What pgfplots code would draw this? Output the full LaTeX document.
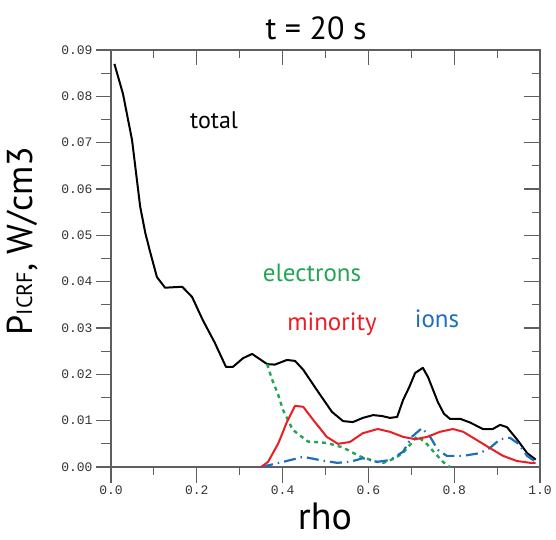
\documentclass[border=0pt]{standalone}
\usepackage{pgfplots}
\pgfplotsset{compat=1.18}
\usepackage{fontspec}
\setmainfont{PT Sans}
\setmonofont{Liberation Mono}
\definecolor{cgreen}{RGB}{35,165,85}
\definecolor{cblue}{RGB}{30,110,190}
\definecolor{cred}{RGB}{235,30,35}
\definecolor{framegray}{RGB}{95,95,95}

\pgfplotstableread{
x y
0.008 0.0870
0.028 0.0805
0.049 0.0706
0.068 0.0562
0.080 0.0505
0.091 0.0465
0.107 0.0410
0.126 0.0387
0.166 0.0389
0.189 0.0367
0.214 0.0317
0.242 0.0268
0.268 0.0216
0.284 0.0216
0.308 0.0235
0.329 0.0244
0.364 0.0222
0.382 0.0221
0.410 0.0231
0.429 0.0229
0.448 0.0210
0.480 0.0166
0.515 0.0119
0.541 0.0099
0.564 0.0097
0.587 0.0106
0.611 0.0112
0.632 0.0110
0.650 0.0106
0.667 0.0108
0.681 0.0145
0.695 0.0172
0.709 0.0203
0.727 0.0214
0.739 0.0194
0.762 0.0140
0.776 0.0115
0.790 0.0104
0.814 0.0104
0.837 0.0096
0.867 0.0082
0.890 0.0082
0.907 0.0091
0.923 0.0086
0.946 0.0060
0.970 0.0030
0.990 0.0016
}\total

\pgfplotstableread{
x y
0.364 0.0222
0.375 0.0190
0.390 0.0155
0.401 0.0123
0.424 0.0080
0.459 0.0055
0.503 0.0052
0.541 0.0042
0.580 0.0023
0.620 0.0011
0.635 0.0009
0.662 0.0019
0.681 0.0031
0.697 0.0048
0.713 0.0066
0.732 0.0054
0.755 0.0030
0.775 0.0010
0.790 0.0000
}\electrons

\pgfplotstableread{
x y
0.350 0.0000
0.366 0.0011
0.390 0.0051
0.410 0.0097
0.429 0.0132
0.448 0.0130
0.471 0.0102
0.503 0.0065
0.529 0.0050
0.557 0.0054
0.587 0.0073
0.622 0.0082
0.650 0.0076
0.681 0.0065
0.709 0.0060
0.737 0.0065
0.767 0.0076
0.797 0.0082
0.821 0.0076
0.853 0.0058
0.883 0.0041
0.914 0.0024
0.946 0.0013
0.977 0.0009
0.990 0.0009
}\minority

\pgfplotstableread{
x y
0.350 0.0000
0.401 0.0011
0.448 0.0022
0.487 0.0015
0.527 0.0009
0.557 0.0011
0.587 0.0019
0.620 0.0011
0.650 0.0015
0.681 0.0033
0.701 0.0065
0.725 0.0084
0.744 0.0065
0.762 0.0037
0.783 0.0024
0.821 0.0024
0.860 0.0030
0.883 0.0041
0.907 0.0060
0.930 0.0063
0.950 0.0050
0.970 0.0024
0.990 0.0011
}\ions

\begin{document}
\begin{tikzpicture}
\begin{axis}[
  at={(111pt,72pt)}, anchor=south west,
  scale only axis, width=429pt, height=417pt,
  xmin=0, xmax=1, ymin=0, ymax=0.09,
  xtick={0,0.2,0.4,0.6,0.8,1.0},
  ytick={0,0.01,0.02,0.03,0.04,0.05,0.06,0.07,0.08,0.09},
  tick align=outside,
  major tick length=15pt,
  major tick style={draw=none}, minor tick style={draw=none},
  axis line style={framegray, line width=1.4pt},
  tick label style={font=\ttfamily\fontsize{13}{13}\selectfont, text=black!80},
  /pgf/number format/assume math mode=true,
  xticklabel style={/pgf/number format/.cd, fixed, fixed zerofill, precision=1},
  yticklabel style={/pgf/number format/.cd, fixed, fixed zerofill, precision=2},
  scaled y ticks=false, scaled x ticks=false,
  clip=false,
]
% frame ticks: bottom/left outward, top/right inward
\pgfplotsinvokeforeach{0,0.2,0.4,0.6,0.8,1}{
  \draw[framegray, line width=1.1pt] (axis cs:#1,0) -- ++(0pt,-16pt);
  \draw[framegray, line width=1.1pt] (axis cs:#1,0.09) -- ++(0pt,-15pt);
}
\pgfplotsinvokeforeach{0.1,0.3,0.5,0.7,0.9}{
  \draw[framegray, line width=1.1pt] (axis cs:#1,0) -- ++(0pt,-8pt);
  \draw[framegray, line width=1.1pt] (axis cs:#1,0.09) -- ++(0pt,-8pt);
}
\pgfplotsinvokeforeach{0,0.01,0.02,0.03,0.04,0.05,0.06,0.07,0.08,0.09}{
  \draw[framegray, line width=1.1pt] (axis cs:0,#1) -- ++(-15pt,0pt);
  \draw[framegray, line width=1.1pt] (axis cs:1,#1) -- ++(-16pt,0pt);
}
\pgfplotsinvokeforeach{0.005,0.015,0.025,0.035,0.045,0.055,0.065,0.075,0.085}{
  \draw[framegray, line width=1.1pt] (axis cs:0,#1) -- ++(-10pt,0pt);
  \draw[framegray, line width=1.1pt] (axis cs:1,#1) -- ++(-8pt,0pt);
}
\addplot[black, line width=2pt, line join=round] table {\total};
\addplot[cgreen, line width=2.4pt, dash pattern=on 4pt off 4pt] table {\electrons};
\addplot[cblue, line width=2.2pt, dash pattern=on 12pt off 5pt on 1.5pt off 5pt] table {\ions};
\addplot[cred, line width=2pt, line join=round] table {\minority};
\end{axis}
\node[anchor=base, font=\fontsize{32}{32}\selectfont] at (316pt,499pt) {t = 20 s};
\node[anchor=base, font=\fontsize{38}{38}\selectfont] at (325pt,10pt) {rho};
\node[rotate=90, anchor=center, font=\fontsize{36}{36}\selectfont] at (22pt,298pt)
  {P{\fontsize{22}{22}\selectfont ICRF}, W/cm3};
\node[anchor=base, font=\fontsize{24}{24}\selectfont] at (214pt,410pt) {total};
\node[anchor=base, font=\fontsize{25}{25}\selectfont, text=cgreen] at (312pt,258pt) {electrons};
\node[anchor=base, font=\fontsize{25}{25}\selectfont, text=cred] at (332pt,209pt) {minority};
\node[anchor=base, font=\fontsize{25}{25}\selectfont, text=cblue] at (437pt,212pt) {ions};
\path (0pt,0pt) rectangle (556pt,539pt);
\end{tikzpicture}
\end{document}
